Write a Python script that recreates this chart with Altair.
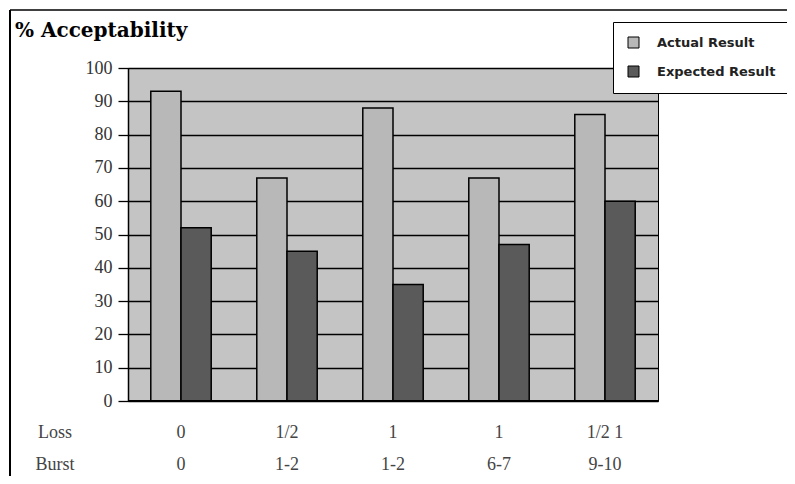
import altair as alt
import pandas as pd

groups = ["g0", "g1", "g2", "g3", "g4"]
loss_labels = ["0", "1/2", "1", "1", "1/2  1"]
burst_labels = ["0", "1-2", "1-2", "6-7", "9-10"]
actual = [93, 67, 88, 67, 86]
expected = [52, 45, 35, 47, 60]
series = ["Actual Result", "Expected Result"]
y_ticks = [0, 10, 20, 30, 40, 50, 60, 70, 80, 90, 100]

rows = []
for g, a, e in zip(groups, actual, expected):
    rows.append({"group": g, "series": series[0], "value": a})
    rows.append({"group": g, "series": series[1], "value": e})
bars_df = pd.DataFrame(rows)
lab_df = pd.DataFrame({"group": groups, "loss": loss_labels, "burst": burst_labels})

xscale = alt.Scale(domain=groups, paddingInner=0.43, paddingOuter=0.215)
yscale = alt.Scale(domain=[0, 100], nice=False)

bars = alt.Chart(bars_df).mark_bar(stroke="black", strokeWidth=1.5).encode(
    x=alt.X("group:N", scale=xscale, axis=None, sort=groups),
    xOffset=alt.XOffset("series:N", sort=series),
    y=alt.Y("value:Q", scale=yscale,
            axis=alt.Axis(values=y_ticks, tickCount=11, labelOverlap=False, title=None,
                          grid=True, gridColor="black",
                          gridWidth=1.3, gridOpacity=1, tickColor="black", tickSize=10,
                          tickWidth=1.3, domainColor="black", domainWidth=1.5,
                          labelFont="Liberation Serif", labelFontSize=18,
                          labelColor="#333333", labelPadding=6)),
    fill=alt.Fill("series:N", sort=series,
                  scale=alt.Scale(domain=series, range=["#b8b8b8", "#5a5a5a"]),
                  legend=alt.Legend(title=None, orient="none", legendX=485, legendY=-46,
                                    fillColor="white", strokeColor="black", padding=14,
                                    symbolType="square", symbolSize=121,
                                    symbolStrokeColor="black", symbolStrokeWidth=1,
                                    labelFont="DejaVu Sans", labelFontSize=13,
                                    labelFontWeight="bold", labelColor="#222222",
                                    labelOffset=17, rowPadding=14, labelLimit=300)),
)

bottom = alt.Chart(pd.DataFrame({"a": [0]})).mark_rule(color="black", strokeWidth=2).encode(
    y=alt.value(333), x=alt.value(0), x2=alt.value(530)
)

loss_text = alt.Chart(lab_df).mark_text(font="Liberation Serif", fontSize=18,
                                        color="#444444", baseline="middle").encode(
    x=alt.X("group:N", scale=xscale, sort=groups, axis=None), y=alt.value(365), text="loss:N"
)
burst_text = alt.Chart(lab_df).mark_text(font="Liberation Serif", fontSize=18,
                                         color="#444444", baseline="middle").encode(
    x=alt.X("group:N", scale=xscale, sort=groups, axis=None), y=alt.value(397), text="burst:N"
)

loss_title = alt.Chart(pd.DataFrame({"t": ["Loss"]})).mark_text(
    font="Liberation Serif", fontSize=18, color="#444444", align="center", baseline="middle"
).encode(x=alt.value(-73), y=alt.value(365), text="t:N")
burst_title = alt.Chart(pd.DataFrame({"t": ["Burst"]})).mark_text(
    font="Liberation Serif", fontSize=18, color="#444444", align="center", baseline="middle"
).encode(x=alt.value(-73), y=alt.value(397), text="t:N")

title = alt.Chart(pd.DataFrame({"t": ["% Acceptability"]})).mark_text(
    font="DejaVu Serif", fontSize=20, fontWeight="bold", color="black",
    align="left", baseline="middle"
).encode(x=alt.value(-113), y=alt.value(-37), text="t:N")

frame_left = alt.Chart(pd.DataFrame({"a": [0]})).mark_rule(color="black", strokeWidth=2).encode(
    x=alt.value(-118), y=alt.value(-58), y2=alt.value(420)
)
frame_top = alt.Chart(pd.DataFrame({"a": [0]})).mark_rule(color="black", strokeWidth=1.5).encode(
    x=alt.value(-118), x2=alt.value(680), y=alt.value(-58)
)

chart = alt.layer(bars, bottom, loss_text, burst_text, loss_title, burst_title, title,
                  frame_left, frame_top).properties(
    width=530, height=333,
    autosize=alt.AutoSizeParams(type="none"),
    padding={"left": 120, "top": 60, "right": 129, "bottom": 75},
).configure_view(fill="#c4c4c4", stroke="black", strokeWidth=1)

chart.save("out.html", embed_options={"renderer": "svg", "actions": False})
